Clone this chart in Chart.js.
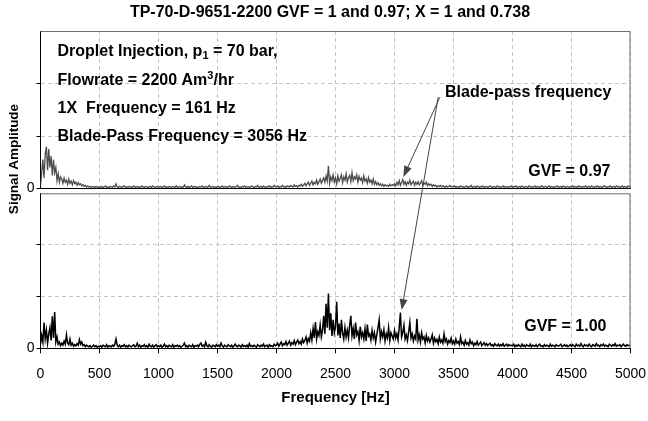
<!DOCTYPE html>
<html>
<head>
<meta charset="utf-8">
<script src="https://cdn.jsdelivr.net/npm/chart.js@4.4.0/dist/chart.umd.min.js"></script>
<style>
html, body { margin: 0; padding: 0; background: #fff; }
#wrap { position: relative; width: 648px; height: 421px; }
#wrap canvas { position: absolute; left: 0; top: 0; }
</style>
</head>
<body>
<div id="wrap">
  <canvas id="topPanel" width="648" height="421"></canvas>
  <canvas id="bottomPanel" width="648" height="421"></canvas>
</div>
<script>
// spectrum sampled every 10 Hz, 0..5000 Hz (one row = 100 Hz)
var SAMPLE_STEP_HZ = 10;

var xTickValues = [0, 500, 1000, 1500, 2000, 2500, 3000, 3500, 4000, 4500, 5000];
var yTickValues = [0, 1, 2];

// GVF = 0.97 (top panel, grey trace)
var gvf097 = [
  0.05, 0.30, 0.55, 0.20, 0.65, 0.80, 0.35, 0.75, 0.40, 0.62,
  0.25, 0.55, 0.30, 0.40, 0.15, 0.28, 0.12, 0.22, 0.18, 0.10,
  0.20, 0.12, 0.16, 0.08, 0.18, 0.10, 0.14, 0.07, 0.15, 0.09,
  0.12, 0.06, 0.11, 0.07, 0.09, 0.05, 0.07, 0.04, 0.06, 0.03,
  0.05, 0.03, 0.04, 0.02, 0.04, 0.03, 0.02, 0.04, 0.03, 0.02,
  // 500
  0.03, 0.02, 0.04, 0.02, 0.03, 0.05, 0.02, 0.03, 0.02, 0.04,
  0.03, 0.02, 0.05, 0.03, 0.09, 0.03, 0.02, 0.04, 0.03, 0.02,
  0.04, 0.05, 0.02, 0.03, 0.02, 0.04, 0.03, 0.02, 0.03, 0.05,
  0.02, 0.03, 0.04, 0.02, 0.03, 0.02, 0.05, 0.03, 0.02, 0.04,
  0.03, 0.02, 0.03, 0.04, 0.02, 0.05, 0.03, 0.02, 0.03, 0.04,
  // 1000
  0.02, 0.03, 0.04, 0.02, 0.03, 0.05, 0.02, 0.03, 0.02, 0.04,
  0.03, 0.02, 0.04, 0.03, 0.02, 0.05, 0.02, 0.03, 0.04, 0.02,
  0.03, 0.02, 0.07, 0.03, 0.02, 0.04, 0.02, 0.03, 0.05, 0.02,
  0.03, 0.04, 0.02, 0.03, 0.02, 0.04, 0.03, 0.05, 0.02, 0.03,
  0.04, 0.02, 0.03, 0.06, 0.02, 0.03, 0.04, 0.02, 0.03, 0.02,
  // 1500
  0.03, 0.04, 0.02, 0.03, 0.05, 0.02, 0.03, 0.04, 0.02, 0.03,
  0.05, 0.03, 0.02, 0.04, 0.03, 0.02, 0.04, 0.06, 0.02, 0.03,
  0.02, 0.04, 0.03, 0.05, 0.02, 0.03, 0.04, 0.02, 0.03, 0.05,
  0.03, 0.02, 0.04, 0.03, 0.06, 0.02, 0.03, 0.04, 0.02, 0.05,
  0.03, 0.02, 0.04, 0.03, 0.05, 0.02, 0.04, 0.03, 0.06, 0.03,
  // 2000
  0.03, 0.05, 0.02, 0.04, 0.03, 0.06, 0.03, 0.04, 0.02, 0.05,
  0.04, 0.03, 0.06, 0.04, 0.03, 0.07, 0.04, 0.05, 0.03, 0.06,
  0.05, 0.08, 0.04, 0.07, 0.10, 0.05, 0.09, 0.12, 0.06, 0.10,
  0.14, 0.07, 0.12, 0.09, 0.16, 0.08, 0.13, 0.18, 0.10, 0.15,
  0.20, 0.12, 0.24, 0.14, 0.43, 0.10, 0.22, 0.15, 0.26, 0.12,
  // 2500
  0.20, 0.09, 0.24, 0.14, 0.19, 0.26, 0.11, 0.22, 0.16, 0.28,
  0.12, 0.21, 0.25, 0.13, 0.30, 0.15, 0.22, 0.18, 0.26, 0.12,
  0.23, 0.16, 0.20, 0.11, 0.24, 0.14, 0.18, 0.10, 0.21, 0.12,
  0.16, 0.09, 0.18, 0.08, 0.13, 0.07, 0.11, 0.06, 0.09, 0.05,
  0.08, 0.04, 0.07, 0.05, 0.06, 0.04, 0.08, 0.05, 0.07, 0.06,
  // 3000
  0.09, 0.05, 0.12, 0.07, 0.15, 0.06, 0.11, 0.17, 0.08, 0.13,
  0.06, 0.12, 0.09, 0.16, 0.07, 0.11, 0.14, 0.06, 0.12, 0.08,
  0.13, 0.07, 0.10, 0.15, 0.06, 0.11, 0.08, 0.12, 0.05, 0.09,
  0.06, 0.08, 0.04, 0.07, 0.05, 0.06, 0.03, 0.05, 0.04, 0.06,
  0.03, 0.05, 0.04, 0.02, 0.05, 0.03, 0.04, 0.06, 0.03, 0.04,
  // 3500
  0.03, 0.05, 0.02, 0.04, 0.03, 0.02, 0.05, 0.03, 0.04, 0.02,
  0.03, 0.05, 0.02, 0.04, 0.03, 0.06, 0.02, 0.03, 0.04, 0.02,
  0.05, 0.03, 0.02, 0.04, 0.03, 0.05, 0.02, 0.03, 0.04, 0.02,
  0.03, 0.05, 0.03, 0.02, 0.04, 0.03, 0.02, 0.05, 0.03, 0.04,
  0.02, 0.03, 0.05, 0.02, 0.04, 0.03, 0.02, 0.04, 0.03, 0.05,
  // 4000
  0.02, 0.04, 0.03, 0.05, 0.02, 0.03, 0.04, 0.02, 0.05, 0.03,
  0.02, 0.04, 0.03, 0.02, 0.05, 0.03, 0.04, 0.02, 0.03, 0.05,
  0.02, 0.04, 0.03, 0.02, 0.04, 0.05, 0.02, 0.03, 0.04, 0.02,
  0.03, 0.05, 0.02, 0.04, 0.03, 0.02, 0.04, 0.03, 0.05, 0.02,
  0.03, 0.04, 0.02, 0.05, 0.03, 0.02, 0.04, 0.03, 0.02, 0.04,
  // 4500
  0.03, 0.05, 0.02, 0.04, 0.03, 0.02, 0.05, 0.03, 0.04, 0.02,
  0.04, 0.03, 0.05, 0.02, 0.03, 0.04, 0.02, 0.05, 0.03, 0.02,
  0.04, 0.03, 0.05, 0.02, 0.04, 0.03, 0.02, 0.04, 0.05, 0.03,
  0.02, 0.04, 0.03, 0.05, 0.02, 0.03, 0.04, 0.02, 0.05, 0.03,
  0.04, 0.02, 0.03, 0.05, 0.02, 0.04, 0.03, 0.02, 0.05, 0.03,
  0.04
];

// GVF = 1.00 (bottom panel, black trace)
var gvf100 = [
  0.08, 0.25, 0.12, 0.50, 0.18, 0.35, 0.10, 0.28, 0.40, 0.15,
  0.62, 0.20, 0.70, 0.12, 0.22, 0.08, 0.12, 0.05, 0.10, 0.06,
  0.14, 0.08, 0.26, 0.10, 0.07, 0.18, 0.06, 0.10, 0.04, 0.07,
  0.05, 0.09, 0.06, 0.17, 0.08, 0.12, 0.05, 0.07, 0.03, 0.06,
  0.04, 0.03, 0.05, 0.02, 0.04, 0.06, 0.03, 0.05, 0.02, 0.04,
  // 500
  0.03, 0.05, 0.02, 0.06, 0.04, 0.03, 0.07, 0.02, 0.05, 0.04,
  0.03, 0.06, 0.04, 0.08, 0.18, 0.05, 0.03, 0.06, 0.02, 0.05,
  0.04, 0.07, 0.03, 0.05, 0.02, 0.06, 0.04, 0.03, 0.05, 0.07,
  0.03, 0.04, 0.10, 0.03, 0.06, 0.02, 0.05, 0.04, 0.07, 0.03,
  0.05, 0.02, 0.08, 0.04, 0.03, 0.06, 0.02, 0.05, 0.07, 0.03,
  // 1000
  0.05, 0.03, 0.06, 0.02, 0.04, 0.08, 0.03, 0.05, 0.02, 0.06,
  0.04, 0.03, 0.07, 0.02, 0.05, 0.04, 0.06, 0.03, 0.05, 0.02,
  0.04, 0.06, 0.10, 0.03, 0.05, 0.02, 0.06, 0.04, 0.03, 0.07,
  0.02, 0.05, 0.04, 0.06, 0.03, 0.08, 0.10, 0.04, 0.06, 0.03,
  0.12, 0.05, 0.03, 0.07, 0.04, 0.02, 0.06, 0.05, 0.03, 0.07,
  // 1500
  0.04, 0.06, 0.03, 0.10, 0.05, 0.02, 0.06, 0.04, 0.03, 0.07,
  0.05, 0.03, 0.06, 0.02, 0.05, 0.08, 0.04, 0.03, 0.06, 0.05,
  0.02, 0.07, 0.04, 0.05, 0.03, 0.06, 0.02, 0.09, 0.04, 0.05,
  0.03, 0.06, 0.04, 0.02, 0.07, 0.05, 0.03, 0.06, 0.04, 0.08,
  0.03, 0.05, 0.06, 0.02, 0.07, 0.04, 0.05, 0.03, 0.08, 0.05,
  // 2000
  0.06, 0.10, 0.04, 0.08, 0.12, 0.05, 0.09, 0.07, 0.13, 0.06,
  0.10, 0.14, 0.06, 0.11, 0.08, 0.15, 0.07, 0.12, 0.16, 0.09,
  0.13, 0.08, 0.18, 0.11, 0.15, 0.22, 0.10, 0.19, 0.14, 0.30,
  0.16, 0.38, 0.20, 0.51, 0.18, 0.32, 0.25, 0.45, 0.22, 0.35,
  0.63, 0.28, 0.86, 0.40, 1.06, 0.35, 0.68, 0.24, 0.55, 0.30,
  // 2500
  0.42, 0.90, 0.25, 0.48, 0.20, 0.55, 0.30, 0.18, 0.40, 0.22,
  0.35, 0.20, 0.45, 0.63, 0.24, 0.38, 0.18, 0.50, 0.26, 0.32,
  0.15, 0.42, 0.22, 0.30, 0.18, 0.38, 0.14, 0.46, 0.24, 0.28,
  0.16, 0.35, 0.20, 0.30, 0.12, 0.26, 0.40, 0.55, 0.18, 0.32,
  0.22, 0.36, 0.14, 0.28, 0.20, 0.40, 0.15, 0.30, 0.24, 0.18,
  // 3000
  0.34, 0.20, 0.28, 0.16, 0.40, 0.69, 0.22, 0.30, 0.45, 0.18,
  0.26, 0.15, 0.32, 0.50, 0.20, 0.28, 0.14, 0.24, 0.18, 0.57,
  0.16, 0.26, 0.12, 0.30, 0.18, 0.22, 0.10, 0.25, 0.14, 0.20,
  0.12, 0.18, 0.26, 0.10, 0.20, 0.13, 0.17, 0.09, 0.22, 0.12,
  0.16, 0.10, 0.28, 0.13, 0.18, 0.08, 0.15, 0.11, 0.20, 0.09,
  // 3500
  0.14, 0.08, 0.18, 0.10, 0.13, 0.07, 0.22, 0.09, 0.12, 0.06,
  0.15, 0.08, 0.11, 0.06, 0.16, 0.09, 0.12, 0.05, 0.10, 0.07,
  0.13, 0.06, 0.09, 0.12, 0.05, 0.08, 0.11, 0.06, 0.09, 0.05,
  0.08, 0.10, 0.05, 0.07, 0.04, 0.09, 0.06, 0.05, 0.08, 0.04,
  0.07, 0.05, 0.09, 0.04, 0.06, 0.08, 0.04, 0.07, 0.05, 0.06,
  // 4000
  0.05, 0.08, 0.03, 0.06, 0.04, 0.07, 0.05, 0.03, 0.08, 0.04,
  0.06, 0.03, 0.07, 0.05, 0.04, 0.08, 0.03, 0.06, 0.05, 0.04,
  0.07, 0.03, 0.06, 0.08, 0.04, 0.05, 0.03, 0.07, 0.04, 0.06,
  0.05, 0.03, 0.08, 0.04, 0.06, 0.05, 0.03, 0.07, 0.05, 0.04,
  0.06, 0.08, 0.03, 0.05, 0.07, 0.04, 0.06, 0.03, 0.05, 0.07,
  // 4500
  0.04, 0.07, 0.05, 0.03, 0.08, 0.05, 0.06, 0.04, 0.09, 0.05,
  0.03, 0.07, 0.05, 0.06, 0.04, 0.08, 0.05, 0.03, 0.07, 0.06,
  0.04, 0.09, 0.05, 0.06, 0.03, 0.07, 0.05, 0.08, 0.04, 0.06,
  0.05, 0.03, 0.08, 0.06, 0.04, 0.07, 0.05, 0.09, 0.04, 0.06,
  0.05, 0.07, 0.03, 0.06, 0.08, 0.05, 0.04, 0.07, 0.05, 0.06,
  0.05
];

var chartTitle = "TP-70-D-9651-2200 GVF = 1 and 0.97; X = 1 and 0.738";
var FONT = "'Liberation Sans', Arial, sans-serif";

function toPoints(values) {
  return values.map(function (v, i) { return { x: i * SAMPLE_STEP_HZ, y: v }; });
}

// draws a line of text made of runs (normal, sub, sup)
function drawRuns(ctx, x, y, runs) {
  runs.forEach(function (r) {
    var size = r.sub || r.sup ? 11 : 16;
    ctx.font = "bold " + size + "px " + FONT;
    var dy = r.sub ? 4 : (r.sup ? -5 : 0);
    ctx.fillText(r.t, x, y + dy);
    x += ctx.measureText(r.t).width;
  });
}

function arrow(ctx, x1, y1, x2, y2) {
  var ang = Math.atan2(y2 - y1, x2 - x1);
  var len = 11, half = 4;
  var bx = x2 - len * Math.cos(ang), by = y2 - len * Math.sin(ang);
  ctx.beginPath();
  ctx.moveTo(x1, y1);
  ctx.lineTo(bx, by);
  ctx.stroke();
  ctx.beginPath();
  ctx.moveTo(x2, y2);
  ctx.lineTo(bx + half * Math.sin(ang), by - half * Math.cos(ang));
  ctx.lineTo(bx - half * Math.sin(ang), by + half * Math.cos(ang));
  ctx.closePath();
  ctx.fill();
}

var framePlugin = {
  id: "frame",
  afterDraw: function (chart) {
    var ctx = chart.ctx, a = chart.chartArea;
    ctx.save();
    ctx.strokeStyle = "#6e6e6e";
    ctx.lineWidth = 1;
    ctx.beginPath();
    ctx.moveTo(a.left, a.top + 0.5);
    ctx.lineTo(a.right - 0.5, a.top + 0.5);
    ctx.lineTo(a.right - 0.5, a.bottom);
    ctx.stroke();
    ctx.restore();
  }
};

function panelScales(showX) {
  return {
    x: {
      type: "linear",
      min: 0,
      max: 5000,
      afterBuildTicks: function (s) { s.ticks = xTickValues.map(function (v) { return { value: v }; }); },
      ticks: {
        display: showX,
        color: "#000",
        font: { family: FONT, size: 14 },
        padding: 12,
        maxRotation: 0,
        callback: function (v) { return String(v); }
      },
      grid: { color: "#c4c4c4", drawTicks: showX, tickLength: 5, tickColor: "#000" },
      border: { color: "#000", width: 1, dash: [4, 3] },
      title: {
        display: showX,
        text: "Frequency [Hz]",
        color: "#000",
        font: { family: FONT, size: 15, weight: "bold" },
        padding: { top: 4, bottom: 14 }
      },
      afterFit: function (s) {
        s.height = showX ? 72.7 : 0;
        s.paddingLeft = 0;
        s.paddingRight = 0;
      }
    },
    y: {
      min: 0,
      max: 3,
      afterBuildTicks: function (s) { s.ticks = yTickValues.map(function (v) { return { value: v }; }); },
      ticks: {
        color: "#000",
        font: { family: FONT, size: 14 },
        padding: 2,
        callback: function (v) { return v === 0 ? "0" : ""; }
      },
      grid: { color: "#c4c4c4", tickLength: 4, tickColor: "#000" },
      border: { color: "#000", width: 1, dash: [4, 3] },
      afterFit: function (s) {
        s.width = 40.5;
        s.paddingTop = 0;
        s.paddingBottom = 0;
      }
    }
  };
}

var topNotes = {
  id: "topNotes",
  afterDraw: function (chart) {
    var ctx = chart.ctx, a = chart.chartArea;
    ctx.save();
    ctx.fillStyle = "#000";
    ctx.textBaseline = "middle";
    ctx.textAlign = "center";
    ctx.font = "bold 16px " + FONT;
    ctx.fillText(chartTitle, 330, 13);

    ctx.textAlign = "left";
    var lx = a.left + 17;
    drawRuns(ctx, lx, a.top + 21, [{ t: "Droplet Injection, p" }, { t: "1", sub: true }, { t: " = 70 bar," }]);
    drawRuns(ctx, lx, a.top + 50, [{ t: "Flowrate = 2200 Am" }, { t: "3", sup: true }, { t: "/hr" }]);
    drawRuns(ctx, lx, a.top + 78, [{ t: "1X  Frequency = 161 Hz" }]);
    drawRuns(ctx, lx, a.top + 106, [{ t: "Blade-Pass Frequency = 3056 Hz" }]);

    ctx.font = "bold 16px " + FONT;
    ctx.fillText("Blade-pass frequency", 445, 93);
    ctx.textAlign = "right";
    ctx.fillText("GVF = 0.97", a.right - 20, 172);

    // y-axis title spanning both panels
    ctx.save();
    ctx.translate(14, 159);
    ctx.rotate(-Math.PI / 2);
    ctx.textAlign = "center";
    ctx.font = "bold 13.5px " + FONT;
    ctx.fillText("Signal Amplitude", 0, 0);
    ctx.restore();
    ctx.restore();
  }
};

var topChart = new Chart(document.getElementById("topPanel"), {
  type: "line",
  data: {
    datasets: [{
      label: "GVF = 0.97",
      data: toPoints(gvf097),
      borderColor: "#4d4d4d",
      borderWidth: 1.3,
      pointRadius: 0,
      tension: 0
    }]
  },
  options: {
    responsive: false,
    animation: false,
    devicePixelRatio: 1,
    layout: { padding: { left: 0, top: 31, right: 17.5, bottom: 232.5 } },
    plugins: { legend: { display: false }, title: { display: false }, tooltip: { enabled: false } },
    scales: panelScales(false)
  },
  plugins: [framePlugin, topNotes]
});

var bottomNotes = {
  id: "bottomNotes",
  afterDraw: function (chart) {
    var ctx = chart.ctx, a = chart.chartArea;
    ctx.save();
    ctx.fillStyle = "#000";
    ctx.textBaseline = "middle";
    ctx.textAlign = "right";
    ctx.font = "bold 16px " + FONT;
    ctx.fillText("GVF = 1.00", a.right - 24, 327);

    // arrows from the "Blade-pass frequency" label to the 3056 Hz peaks
    var tx = topChart.scales.x, ty = topChart.scales.y;
    var bx = chart.scales.x, by = chart.scales.y;
    ctx.strokeStyle = "#444";
    ctx.fillStyle = "#444";
    ctx.lineWidth = 1;
    arrow(ctx, tx.getPixelForValue(3385), ty.getPixelForValue(1.74), tx.getPixelForValue(3075), ty.getPixelForValue(0.22));
    arrow(ctx, tx.getPixelForValue(3370), ty.getPixelForValue(1.74), bx.getPixelForValue(3061), by.getPixelForValue(0.74));
    ctx.restore();
  }
};

var bottomChart = new Chart(document.getElementById("bottomPanel"), {
  type: "line",
  data: {
    datasets: [{
      label: "GVF = 1.00",
      data: toPoints(gvf100),
      borderColor: "#000000",
      borderWidth: 1.5,
      pointRadius: 0,
      tension: 0
    }]
  },
  options: {
    responsive: false,
    animation: false,
    devicePixelRatio: 1,
    layout: { padding: { left: 0, top: 193.3, right: 17.5, bottom: 0 } },
    plugins: { legend: { display: false }, title: { display: false }, tooltip: { enabled: false } },
    scales: panelScales(true)
  },
  plugins: [framePlugin, bottomNotes]
});
</script>
</body>
</html>
